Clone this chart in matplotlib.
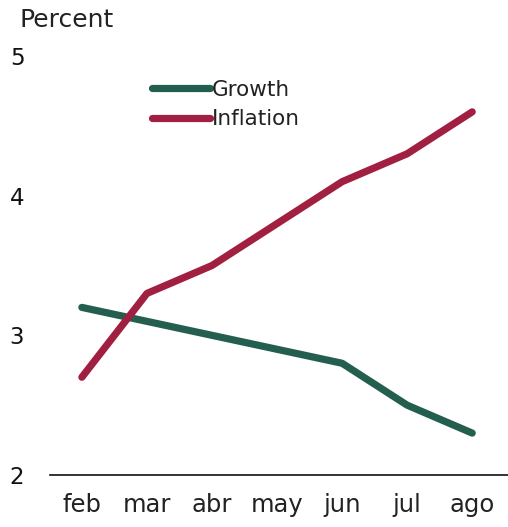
import matplotlib
matplotlib.use("Agg")
import matplotlib.pyplot as plt

months = ["feb", "mar", "abr", "may", "jun", "jul", "ago"]
growth = [3.2, 3.1, 3.0, 2.9, 2.8, 2.5, 2.3]
inflation = [2.7, 3.3, 3.5, 3.8, 4.1, 4.3, 4.6]
yticks = [2, 3, 4, 5]

plt.rcParams['font.family'] = ['DejaVu Sans']

fig = plt.figure(figsize=(5.08, 5.27), dpi=100)
ax = fig.add_axes([50/508, (527-475)/527, (508-50)/508, (475-56)/527])

x = range(len(months))
ax.plot(x, growth, color="#245e4f", lw=5.2, solid_capstyle="round", label="Growth")
ax.plot(x, inflation, color="#a11f41", lw=5.2, solid_capstyle="round", label="Inflation")

ax.set_xlim(-0.49, 6.55)
ax.set_ylim(2, 5)
ax.set_xticks(list(x))
ax.set_xticklabels(months, fontsize=17.5, color="#222222")
ax.set_yticks(yticks)
ax.set_yticklabels([str(v) for v in yticks], fontsize=16.5, ha="left", color="#111111")
ax.tick_params(axis="y", length=0, pad=29)
ax.tick_params(axis="x", length=0, pad=13)

for s in ["top", "right", "left"]:
    ax.spines[s].set_visible(False)
ax.spines["bottom"].set_linewidth(1.2)
ax.spines["bottom"].set_color("#111111")

fig.text(20/508, 1 - 20/527, "Percent", fontsize=18, va="center", ha="left", color="#222222")

leg = ax.legend(loc="upper left", bbox_to_anchor=(152/508, 1 - 80/527),
                bbox_transform=fig.transFigure, frameon=False, fontsize=15.5,
                handlelength=2.7, handletextpad=0.08, labelspacing=0.42,
                borderaxespad=0, borderpad=0)
for t in leg.get_texts():
    t.set_color("#222222")

fig.savefig("out.png", dpi=100)
